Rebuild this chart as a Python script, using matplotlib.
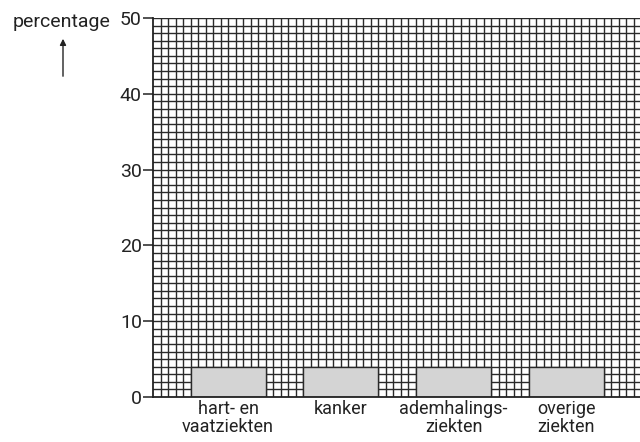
import matplotlib.pyplot as plt
import numpy as np

categories = ['hart- en\nvaatziekten', 'kanker', 'ademhalings-\nziekten', 'overige\nziekten']
box_centers = [10, 25, 40, 55]
box_heights = [4, 4, 4, 4]
y_ticks = [0, 10, 20, 30, 40, 50]

plt.rcParams['font.family'] = ['Roboto', 'DejaVu Sans']

fig = plt.figure(figsize=(6.4, 4.42), dpi=100)
ax = fig.add_axes([153 / 640, 45 / 442, 1 - 153 / 640 + 0.002, 379 / 442])

ax.set_xlim(0, 65)
ax.set_ylim(0, 50)

# grid paper
for x in np.arange(1, 66, 1):
    ax.axvline(x, color='#2a2a2a', linewidth=1.0, zorder=1)
for y in np.arange(1, 51, 1):
    ax.axhline(y, color='#2a2a2a', linewidth=1.0, zorder=1)

ax.bar(box_centers, box_heights, width=10, color='#d4d4d4', edgecolor='#2a2a2a',
       linewidth=1.0, zorder=2)

for spine in ['top', 'right']:
    ax.spines[spine].set_visible(False)
ax.spines['left'].set_linewidth(1.3)
ax.spines['bottom'].set_linewidth(1.3)
ax.spines['left'].set_color('#222222')
ax.spines['bottom'].set_color('#222222')

ax.set_yticks(y_ticks)
ax.set_yticklabels([str(v) for v in y_ticks], fontsize=14, color='#222222')
ax.tick_params(axis='y', length=7, width=1.1, direction='out', pad=1, color='#222222')
ax.set_xticks(box_centers)
ax.set_xticklabels(categories, fontsize=13, color='#222222', linespacing=1.05)
ax.tick_params(axis='x', length=0, pad=2)

fig.text(62 / 640, 1 - 22 / 442, 'percentage', fontsize=14, color='#222222',
         ha='center', va='center')
fig.add_artist(plt.matplotlib.patches.FancyArrowPatch(
    (63 / 640, 1 - 79 / 442), (63 / 640, 1 - 36 / 442),
    transform=fig.transFigure, arrowstyle='-|>', mutation_scale=9,
    color='#222222', linewidth=1.0))

plt.savefig('out.png', dpi=100)
